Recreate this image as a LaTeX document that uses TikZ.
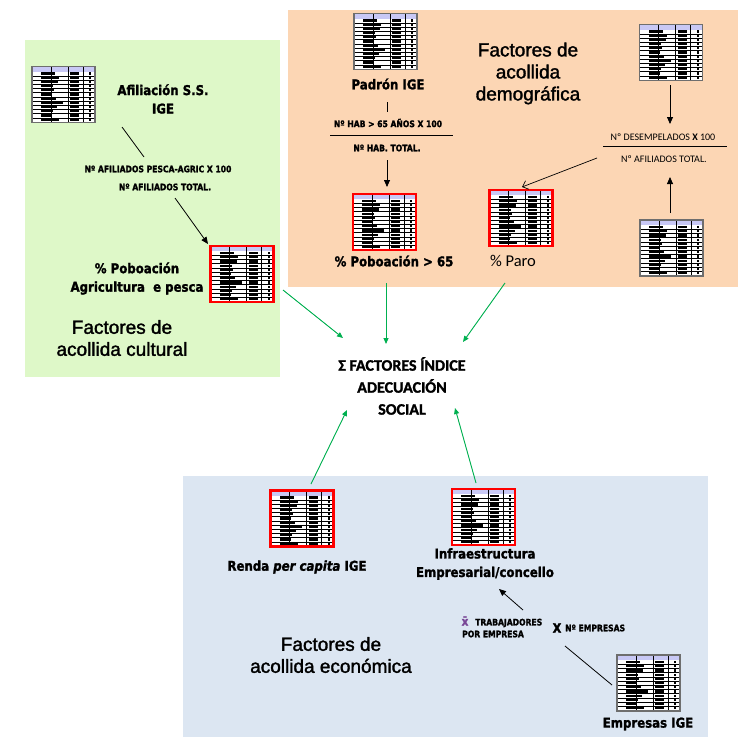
\documentclass[tikz,border=0pt]{standalone}
\usepackage{fontspec}
\setmainfont[FakeBold=1.6]{Liberation Sans}
\newfontfamily\tb[FakeStretch=0.87, FakeBold=1.5]{DejaVu Sans}
\newfontfamily\tn[FakeStretch=0.85, FakeBold=1.8]{DejaVu Sans}
\newfontfamily\calfont{Carlito}
\newfontfamily\calbold[FakeBold=1.5]{Carlito}
\usetikzlibrary{arrows.meta}
\definecolor{greenbg}{RGB}{222,248,200}
\definecolor{orangebg}{RGB}{252,214,180}
\definecolor{bluebg}{RGB}{220,230,242}
\definecolor{arrgreen}{RGB}{0,176,80}
\definecolor{hdr}{RGB}{200,200,245}
\definecolor{sheetgray}{RGB}{110,110,110}
\definecolor{xbarcol}{RGB}{120,70,150}
\tikzset{
  sheetbox/.style={minimum width=63pt, minimum height=56pt, inner sep=0pt, outer sep=0pt},
  lbl/.style={font=\tb\bfseries\fontsize{13.5}{18.5}\selectfont, align=center, inner sep=0pt},
  tiny/.style={font=\tn\bfseries\fontsize{9}{11}\selectfont, inner sep=0pt},
  head/.style={font=\fontsize{19}{22}\selectfont, align=center, inner sep=0pt},
  cal/.style={font=\calfont\fontsize{10}{12}\selectfont, inner sep=0pt},
  ctr/.style={font=\calbold\bfseries\fontsize{16}{22}\selectfont, align=center, inner sep=0pt},
  blk/.style={-{Triangle[length=7pt,width=6pt]}, line width=0.8pt},
  grn/.style={draw=arrgreen, -{Triangle[length=6pt,width=5pt]}, fill=arrgreen, line width=0.9pt},
  barb/.style={-{Straight Barb[length=5pt,width=9pt]}, line width=0.7pt},
  plain/.style={line width=0.8pt},
}
\newcommand\sheet[5]{%
  \node[sheetbox] (#1) at (#2,#3) {};
  \begin{scope}[shift={(#1.north west)}]
    \fill[white] (0,0) rectangle (63,56);
    \fill[hdr] (0,0) rectangle (63,5);
    \foreach \r/\l in {1/14,2/18,3/17,4/12,5/13,6/11,7/15,8/22,9/16,10/12,11/11,12/18}{
      \draw[line width=0.4pt] (0,{5+\r*4.2}) -- (63,{5+\r*4.2});
      \fill (9,{5+\r*4.2-3.3}) rectangle ({9+\l},{5+\r*4.2-1.1});
      \fill (38,{5+\r*4.2-3.3}) rectangle (47,{5+\r*4.2-1.1});
      \fill (57,{5+\r*4.2-3.3}) rectangle (59,{5+\r*4.2-1.1});
    }
    \draw[line width=0.6pt] (19,0) -- (19,56) (36,0) -- (36,56) (51,0) -- (51,56);
  \end{scope}
  \draw[draw=#4, line width=#5] (#1.north west) rectangle (#1.south east);
}
\begin{document}
\begin{tikzpicture}[x=1pt,y=-1pt]
\useasboundingbox (0,0) rectangle (756,756);
\fill[white] (0,0) rectangle (756,756);
% regions
\fill[greenbg] (25,40) rectangle (280,377);
\fill[orangebg] (288,10) rectangle (738,287);
\fill[bluebg] (183,476) rectangle (708,737);

% sheets
\sheet{sG1}{63.5}{94.5}{sheetgray}{1.5pt}
\sheet{sG2}{242}{274}{red}{2.2pt}
\sheet{sPad}{385.5}{41.5}{sheetgray}{1.5pt}
\sheet{sTR}{671}{52.5}{sheetgray}{1.5pt}
\sheet{sP65}{384.5}{222}{red}{2.2pt}
\sheet{sParo}{521}{218}{red}{2.2pt}
\sheet{sBR}{671.5}{248}{sheetgray}{1.5pt}
\sheet{sRenda}{302}{518.5}{red}{2.2pt}
\sheet{sInfra}{483.5}{517}{red}{2.2pt}
\sheet{sEmp}{648.5}{683}{sheetgray}{1.5pt}

% green region texts
\node[lbl] (afil) at (163,99) {Afiliación S.S.\\IGE};
\node[tiny] (fnum1) at (158,169) {Nº AFILIADOS PESCA-AGRIC X 100};
\node[tiny] (fden1) at (165,187) {Nº AFILIADOS TOTAL.};
\node[lbl] (pagri) at (137,278.5) {\% Poboación\\Agricultura\ \ e pesca};
\node[head] (hcult) at (122,338) {Factores de\\acollida cultural};

% orange region texts
\node[lbl] (padron) at (388,84) {Padrón IGE};
\node[tiny] (fnum2) at (388,123) {Nº HAB > 65 AÑOS X 100};
\node[tiny] (fden2) at (387,148) {Nº HAB. TOTAL.};
\node[lbl] (p65) at (394,261) {\% Poboación > 65};
\node[font=\calfont\fontsize{16.5}{18}\selectfont, inner sep=0pt] (paro) at (513,261) {\% Paro};
\node[head] (hdemo) at (528,73.5) {Factores de\\acollida\\demográfica};
\node[cal] (fnum3) at (663,137) {Nº DESEMPELADOS \textbf{X} 100};
\node[cal] (fden3) at (664,159) {Nº AFILIADOS TOTAL.};

% centre
\node[ctr] (sum) at (402,386) {Σ FACTORES ÍNDICE\\ADECUACIÓN\\SOCIAL};

% blue region texts
\node[lbl] (renda) at (297,567) {Renda \textit{per capita} IGE};
\node[lbl] (infra) at (485,564) {Infraestructura\\Empresarial/concello};
\node[inner sep=0pt, font=\tb\bfseries\fontsize{12}{14}\selectfont, text=xbarcol] (xbar) at (465,621) {\=x};
\node[tiny, anchor=west] (trab) at (475,623) {TRABAJADORES};
\node[tiny, anchor=west] (porem) at (462,634) {POR EMPRESA};
\node[font=\tb\bfseries\fontsize{13}{15}\selectfont, inner sep=0pt] (xx) at (557,628) {X};
\node[tiny, anchor=west] (nemp) at (565,628) {Nº EMPRESAS};
\node[lbl] (emp) at (648,724) {Empresas IGE};
\node[head] (hecon) at (331,655) {Factores de\\acollida económica};

% connector end points
\coordinate (a1) at (122,127); \coordinate (a2) at (144,157);
\coordinate (b1) at (175,198); \coordinate (b2) at (208,244);
\coordinate (c1) at (387,102); \coordinate (c2) at (387,112);
\coordinate (fl1a) at (330,135); \coordinate (fl1b) at (453,135);
\coordinate (d1) at (387,160); \coordinate (d2) at (387,187);
\coordinate (e1) at (670,85); \coordinate (e2) at (670,124);
\coordinate (fl2a) at (603,146); \coordinate (fl2b) at (727,146);
\coordinate (f1) at (670,213); \coordinate (f2) at (670,177);
\coordinate (h1) at (597,158); \coordinate (h2) at (522,187);
\coordinate (g1a) at (283,290); \coordinate (g1b) at (343,338);
\coordinate (g2a) at (386,283); \coordinate (g2b) at (386,344);
\coordinate (g3a) at (505,283); \coordinate (g3b) at (463,342);
\coordinate (g4a) at (311,484); \coordinate (g4b) at (347,410);
\coordinate (g5a) at (476,483); \coordinate (g5b) at (455,408);
\coordinate (k1) at (523,610); \coordinate (k2) at (499,589);
\coordinate (m1) at (565,646); \coordinate (m2) at (612,685);

% connectors
\draw[plain] (a1) -- (a2);
\draw[blk] (b1) -- (b2);
\draw[plain] (c1) -- (c2);
\draw[plain] (fl1a) -- (fl1b);
\draw[blk] (d1) -- (d2);
\draw[blk] (e1) -- (e2);
\draw[plain] (fl2a) -- (fl2b);
\draw[blk] (f1) -- (f2);
\draw[barb] (h1) -- (h2);
\draw[grn] (g1a) -- (g1b);
\draw[grn] (g2a) -- (g2b);
\draw[grn] (g3a) -- (g3b);
\draw[grn] (g4a) -- (g4b);
\draw[grn] (g5a) -- (g5b);
\draw[blk] (k1) -- (k2);
\draw[plain] (m1) -- (m2);
\end{tikzpicture}
\end{document}
